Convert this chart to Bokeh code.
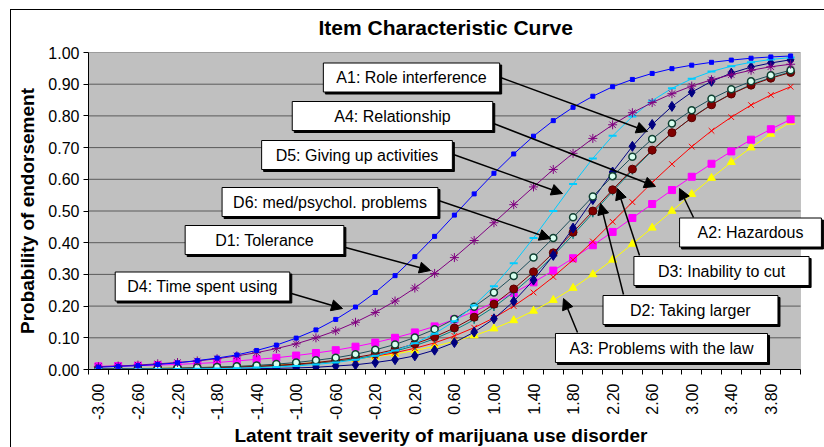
from bokeh.plotting import figure
from bokeh.models import (Range1d, FixedTicker, NumeralTickFormatter, Label, Arrow, NormalHead,
                          BoxAnnotation, Title)
from bokeh.embed import file_html
from bokeh.resources import INLINE

# ---------------- data ----------------
theta = [-3.0, -2.8, -2.6, -2.4, -2.2, -2.0, -1.8, -1.6, -1.4, -1.2, -1.0, -0.8,
         -0.6, -0.4, -0.2, 0.0, 0.2, 0.4, 0.6, 0.8, 1.0, 1.2, 1.4, 1.6,
         1.8, 2.0, 2.2, 2.4, 2.6, 2.8, 3.0, 3.2, 3.4, 3.6, 3.8, 4.0]

x_tick_labels = ["-3.00", "-2.60", "-2.20", "-1.80", "-1.40", "-1.00", "-0.60", "-0.20",
                 "0.20", "0.60", "1.00", "1.40", "1.80", "2.20", "2.60", "3.00", "3.40", "3.80"]
y_ticks = [0.0, 0.1, 0.2, 0.3, 0.4, 0.5, 0.6, 0.7, 0.8, 0.9, 1.0]

D4 = [0.007, 0.010, 0.012, 0.016, 0.021, 0.028, 0.036, 0.046, 0.060, 0.077, 0.099, 0.125,
      0.158, 0.197, 0.243, 0.296, 0.356, 0.420, 0.487, 0.554, 0.619, 0.680, 0.736, 0.785,
      0.827, 0.862, 0.892, 0.915, 0.934, 0.949, 0.960, 0.969, 0.976, 0.982, 0.986, 0.989]
D1 = [0.009, 0.011, 0.014, 0.018, 0.022, 0.027, 0.034, 0.043, 0.053, 0.066, 0.081, 0.100,
      0.122, 0.149, 0.180, 0.216, 0.257, 0.303, 0.353, 0.407, 0.463, 0.520, 0.576, 0.631,
      0.682, 0.729, 0.772, 0.810, 0.842, 0.870, 0.894, 0.914, 0.930, 0.944, 0.955, 0.963]
D5 = [0.0004, 0.0005, 0.0007, 0.001, 0.0015, 0.002, 0.003, 0.004, 0.006, 0.008, 0.011, 0.016,
      0.022, 0.031, 0.043, 0.060, 0.083, 0.113, 0.152, 0.202, 0.263, 0.335, 0.415, 0.500,
      0.585, 0.666, 0.737, 0.798, 0.848, 0.887, 0.917, 0.940, 0.957, 0.969, 0.978, 0.984]
A1 = [0.0001, 0.0002, 0.0003, 0.0004, 0.0006, 0.0009, 0.0012, 0.0018, 0.0025, 0.0036, 0.005, 0.007,
      0.011, 0.015, 0.022, 0.031, 0.043, 0.061, 0.085, 0.118, 0.160, 0.215, 0.282, 0.360,
      0.446, 0.536, 0.623, 0.704, 0.773, 0.830, 0.875, 0.909, 0.935, 0.954, 0.967, 0.977]
D6 = [0.0016, 0.0021, 0.0028, 0.0036, 0.0047, 0.006, 0.008, 0.010, 0.013, 0.017, 0.022, 0.029,
      0.037, 0.048, 0.062, 0.079, 0.101, 0.127, 0.159, 0.198, 0.243, 0.295, 0.353, 0.415,
      0.480, 0.546, 0.610, 0.671, 0.727, 0.776, 0.818, 0.854, 0.884, 0.909, 0.928, 0.944]
D3 = [0.0012, 0.0015, 0.002, 0.0026, 0.0034, 0.0045, 0.006, 0.008, 0.010, 0.013, 0.017, 0.022,
      0.029, 0.038, 0.049, 0.063, 0.081, 0.103, 0.131, 0.165, 0.206, 0.254, 0.308, 0.368,
      0.433, 0.500, 0.567, 0.632, 0.692, 0.747, 0.794, 0.835, 0.869, 0.897, 0.919, 0.937]
D2 = [0.001, 0.0013, 0.0017, 0.0022, 0.003, 0.0039, 0.005, 0.0067, 0.009, 0.012, 0.015, 0.020,
      0.026, 0.034, 0.045, 0.058, 0.075, 0.097, 0.124, 0.157, 0.197, 0.244, 0.298, 0.359,
      0.425, 0.493, 0.562, 0.628, 0.690, 0.746, 0.795, 0.836, 0.870, 0.899, 0.921, 0.939]
A4 = [0.0013, 0.0017, 0.0022, 0.0028, 0.0035, 0.0045, 0.006, 0.0075, 0.010, 0.012, 0.016, 0.020,
      0.026, 0.033, 0.042, 0.053, 0.067, 0.084, 0.106, 0.132, 0.163, 0.200, 0.243, 0.292,
      0.346, 0.404, 0.466, 0.528, 0.590, 0.648, 0.703, 0.753, 0.796, 0.834, 0.866, 0.892]
A2 = [0.010, 0.011, 0.012, 0.014, 0.016, 0.019, 0.022, 0.027, 0.032, 0.037, 0.044, 0.052,
      0.061, 0.072, 0.085, 0.100, 0.117, 0.136, 0.158, 0.183, 0.211, 0.242, 0.275, 0.312,
      0.351, 0.392, 0.434, 0.478, 0.522, 0.566, 0.608, 0.649, 0.688, 0.725, 0.758, 0.789]
A3 = [0.002, 0.0026, 0.0033, 0.004, 0.005, 0.006, 0.0076, 0.0093, 0.0115, 0.014, 0.0175, 0.0215,
      0.0265, 0.033, 0.040, 0.049, 0.060, 0.073, 0.089, 0.107, 0.129, 0.155, 0.185, 0.219,
      0.257, 0.300, 0.346, 0.396, 0.447, 0.500, 0.553, 0.604, 0.654, 0.700, 0.743, 0.781]

item_labels = {
    "A1": "A1: Role interference", "A4": "A4: Relationship", "D5": "D5: Giving up activities",
    "D6": "D6: med/psychol. problems", "D1": "D1: Tolerance", "D4": "D4: Time spent using",
    "A2": "A2: Hazardous", "D3": "D3: Inability to cut", "D2": "D2: Taking larger",
    "A3": "A3: Problems with the law",
}

# ---------------- layout ----------------
W, H = 824, 447
BL, BR, BT, BB = 88, 0, 52, 78
PX_PER_UNIT = 712 / 7.2
X0 = -3.1           # left edge of plot area
XR = 4.1            # right edge of plot area
FW, FH = W - BL - BR, H - BT - BB
X1 = X0 + FW / PX_PER_UNIT   # frame extends to the canvas edge so call-outs are not cut
FONT = "Liberation Sans"


def dx(px):  # canvas pixel -> data x
    return X0 + (px - BL) / PX_PER_UNIT


def dy(py):  # canvas pixel -> data y
    return (BT + FH - py) / FH


# approximate Arial/Liberation Sans advance widths (per 1000 em) for box sizing
_CW = {" ": 278, ":": 278, ".": 278, "/": 278, "A": 667, "D": 722, "G": 778, "H": 722,
       "I": 278, "P": 667, "R": 722, "T": 611, "a": 556, "b": 556, "c": 500, "d": 556,
       "e": 556, "f": 278, "g": 556, "h": 556, "i": 222, "k": 500, "l": 222, "m": 833,
       "n": 556, "o": 556, "p": 556, "r": 333, "s": 500, "t": 278, "u": 556, "v": 500,
       "w": 722, "y": 500, "z": 500}


def text_w(s, size=16):
    return sum(_CW.get(c, 556) for c in s) * size / 1000.0


p = figure(width=W, height=H, output_backend="svg", toolbar_location=None,
           x_range=Range1d(X0, X1), y_range=Range1d(0, 1),
           min_border_left=BL, min_border_right=BR, min_border_top=BT, min_border_bottom=BB,
           title="Item Characteristic Curve")
p.title.align = "left"
p.title.offset = 230
p.title.text_font = FONT
p.title.text_font_size = "21px"
p.title.text_font_style = "bold"
p.title.text_color = "black"
p.title.standoff = 27

p.background_fill_color = "white"
p.border_fill_color = None
p.outline_line_color = None
p.styles = {
    "background-color": "white",
    "background-image": "linear-gradient(black, black), linear-gradient(black, black)",
    "background-size": "1px 100%, 100% 1px",
    "background-position": "10px 9px, 10px 9px",
    "background-repeat": "no-repeat",
}

# plot area (grey) with its border
p.add_layout(BoxAnnotation(left=X0, right=XR, bottom=0, top=1, fill_color="#C0C0C0",
                           fill_alpha=1, line_color="#808080", line_width=1, level="underlay"))
p.xgrid.grid_line_color = None
p.ygrid.grid_line_color = None
p.segment(x0=[X0] * len(y_ticks), y0=y_ticks, x1=[XR] * len(y_ticks), y1=y_ticks,
          line_color="#5A5A5A", line_width=1)

# x axis
xa = p.xaxis[0]
tick_vals = [float(t) for t in x_tick_labels]
minor = [t - 0.1 for t in theta] + [theta[-1] + 0.1]
xa.ticker = FixedTicker(ticks=tick_vals, minor_ticks=minor)
xa.bounds = (X0, XR)
xa.formatter = NumeralTickFormatter(format="0.00")
xa.major_label_overrides = {v: s for v, s in zip(tick_vals, x_tick_labels)}
xa.major_label_orientation = 3.14159265 / 2
xa.major_tick_out = 0
xa.major_tick_in = 0
xa.minor_tick_out = 5
xa.minor_tick_in = 0
xa.major_label_standoff = 9

# x-axis title centred on the plot area (not on the wider frame)
xtitle = "Latent trait severity of marijuana use disorder"
p.add_layout(Title(text=xtitle, align="left",
                   offset=int(round((XR - X0) * PX_PER_UNIT / 2 - text_w(xtitle, 19) * 1.075 / 2)) - 2,
                   text_font=FONT, text_font_size="19px", text_font_style="bold",
                   text_color="black", standoff=0), "below")

ya = p.yaxis[0]
ya.ticker = FixedTicker(ticks=y_ticks, minor_ticks=[])
ya.formatter = NumeralTickFormatter(format="0.00")
ya.major_tick_out = 5
ya.major_tick_in = 0
ya.minor_tick_out = 0
ya.major_label_standoff = 4
ya.axis_label = "Probability of endorsement"
ya.axis_label_standoff = 7

for ax in (xa, ya):
    ax.axis_line_color = "black"
    ax.major_tick_line_color = "black"
    ax.minor_tick_line_color = "black"
    ax.major_label_text_font = FONT
    ax.major_label_text_font_size = "16px"
    ax.major_label_text_color = "black"
    ax.axis_label_text_font = FONT
    ax.axis_label_text_font_size = "19px"
    ax.axis_label_text_font_style = "bold"
    ax.axis_label_text_color = "black"

# ---------------- series ----------------
series = [
    (A3, "#FFFF00", dict(marker="triangle", size=8, fill_color="#FFFF00", line_color="#FFFF00")),
    (A2, "#FF00FF", dict(marker="square", size=7, fill_color="#FF00FF", line_color="#FF00FF")),
    (A4, "#FF0000", dict(marker="x", size=8, fill_color=None, line_color="#FF0000")),
    (D2, "#008080", dict(marker="cross", size=8, fill_color=None, line_color="#008080", line_width=1.5)),
    (D3, "#800000", dict(marker="circle", size=8, fill_color="#800000", line_color="#5A0000")),
    (A1, "#000080", dict(marker="diamond", size=10, fill_color="#000080", line_color="#000080")),
    (D6, "#1F4E5A", dict(marker="circle", size=7, fill_color="#D8FFF0", line_color="#0F3F30", line_width=1.5)),
    (D5, "#00CCFF", dict(marker="dash", size=8, fill_color=None, line_color="#00CCFF", line_width=2)),
    (D1, "#800080", dict(marker="asterisk", size=9, fill_color=None, line_color="#800080")),
    (D4, "#0000FF", dict(marker="square", size=4, fill_color="#0000FF", line_color="#0000FF")),
]
for vals, col, mk in series:
    p.line(theta, vals, line_color=col, line_width=1)
    p.scatter(theta, vals, **mk)

# ---------------- callouts ----------------
boxes = [  # key, left, top, right, bottom (canvas px)
    ("A1", 322, 62, 500, 92), ("A4", 291, 100, 493, 131), ("D5", 260, 139, 453, 170),
    ("D6", 221, 186, 438, 217), ("D1", 183, 224, 345, 255), ("D4", 113, 271, 291, 301),
    ("A2", 678, 217, 822, 247), ("D3", 632, 255, 810, 286), ("D2", 601, 294, 779, 325),
    ("A3", 554, 332, 768, 363),
]
arrows = [  # start (canvas px) -> tip (canvas px)
    (500, 77, 647, 131), (493, 123, 655, 186), (453, 154, 562, 193), (438, 200, 550, 238),
    (345, 247, 430, 270), (291, 293, 342, 308), (693, 217, 679, 188), (639, 255, 617, 188),
    (623, 294, 600, 203), (577, 332, 563, 298),
]
for x0, y0, x1, y1 in arrows:
    p.add_layout(Arrow(end=NormalHead(size=11, fill_color="black", line_color="black"),
                       x_start=dx(x0), y_start=dy(y0), x_end=dx(x1), y_end=dy(y1),
                       line_color="black", line_width=1.5))

for key, l, t, r, b in boxes:
    txt = item_labels[key]
    padx = max(0, int(round((r - l - text_w(txt)) / 2)) - 1)
    pady = max(0, int(round((b - t - 18) / 2)))
    pad = dict(left=padx, right=padx, top=pady, bottom=pady)
    cx, cy = dx((l + r) / 2), dy((t + b) / 2)
    p.add_layout(Label(x=cx, y=cy, x_offset=2, y_offset=-2, text=txt, text_align="center",
                       text_baseline="middle", text_font=FONT, text_font_size="16px",
                       text_color="black", background_fill_color="black",
                       border_line_color="black", padding=pad))
    p.add_layout(Label(x=cx, y=cy, text=txt, text_align="center", text_baseline="middle",
                       text_font=FONT, text_font_size="16px", text_color="black",
                       background_fill_color="white", border_line_color="black",
                       border_line_width=1, padding=pad))

open("out.html", "w").write(file_html(p, INLINE))
